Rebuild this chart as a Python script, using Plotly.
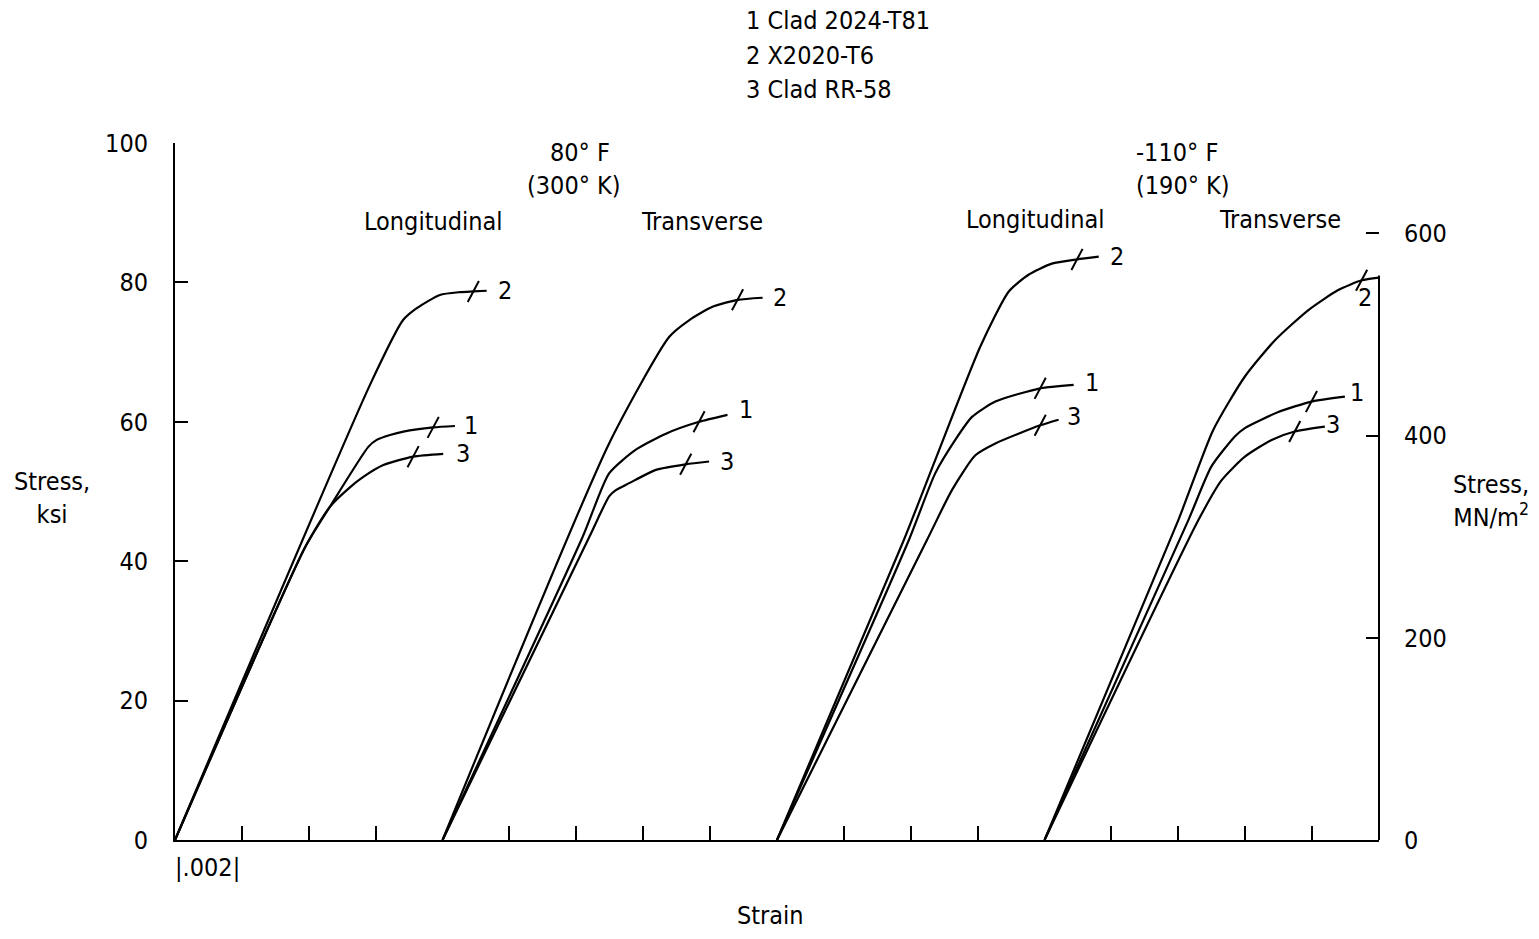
import plotly.graph_objects as go

# ---------------- data (strain relative to each group's origin, stress in ksi) ----------------
group_names = ["80F Longitudinal", "80F Transverse", "-110F Longitudinal", "-110F Transverse"]
group_offsets = [0.0, 0.008, 0.018, 0.026]

# group 1: 80 F longitudinal
g1_c1_strain = [0, 0.00389, 0.00463, 0.00578, 0.00603, 0.00643, 0.00683, 0.00772, 0.00837]
g1_c1_stress = [0, 42.0, 47.8, 56.4, 57.4, 58.1, 58.6, 59.2, 59.4]
g1_c2_strain = [0, 0.00583, 0.00682, 0.00723, 0.00792, 0.00852, 0.00892, 0.00932]
g1_c2_stress = [0, 65.3, 74.6, 76.3, 78.2, 78.6, 78.7, 78.8]
g1_c3_strain = [0, 0.00389, 0.00463, 0.00523, 0.00563, 0.00623, 0.00712, 0.00802]
g1_c3_stress = [0, 42.0, 47.8, 50.6, 52.1, 53.8, 55.0, 55.4]

# group 2: 80 F transverse
g2_c1_strain = [0, 0.00419, 0.00498, 0.00578, 0.00668, 0.00767, 0.00852]
g2_c1_stress = [0, 43.5, 52.6, 56.0, 58.3, 60.0, 61.0]
g2_c2_strain = [0, 0.00498, 0.00678, 0.00738, 0.00807, 0.00882, 0.00957]
g2_c2_stress = [0, 56.9, 72.2, 74.6, 76.5, 77.5, 77.8]
g2_c3_strain = [0, 0.00439, 0.00498, 0.00518, 0.00558, 0.00638, 0.00727, 0.00797]
g2_c3_stress = [0, 43.5, 49.3, 50.2, 51.2, 53.1, 53.9, 54.3]

# group 3: -110 F longitudinal
g3_c1_strain = [0, 0.00394, 0.00473, 0.00533, 0.00583, 0.00653, 0.00787, 0.00887]
g3_c1_stress = [0, 43.0, 52.6, 57.4, 60.7, 62.9, 64.8, 65.3]
g3_c2_strain = [0, 0.00379, 0.00473, 0.00608, 0.00693, 0.00752, 0.00822, 0.00897, 0.00962]
g3_c2_stress = [0, 43.0, 54.5, 70.8, 78.7, 81.1, 82.7, 83.3, 83.7]
g3_c3_strain = [0, 0.00448, 0.00523, 0.00593, 0.00653, 0.00787, 0.00842]
g3_c3_stress = [0, 43.0, 50.2, 55.2, 56.9, 59.5, 60.3]

# group 4: -110 F transverse
g4_c1_strain = [0, 0.00430, 0.00499, 0.00569, 0.00599, 0.00699, 0.00798, 0.00898]
g4_c1_stress = [0, 45.9, 53.6, 57.9, 59.1, 61.4, 62.9, 63.6]
g4_c2_strain = [0, 0.00400, 0.00504, 0.00599, 0.00689, 0.00788, 0.00878, 0.00948, 0.01000]
g4_c2_stress = [0, 45.9, 58.8, 66.5, 71.7, 76.0, 78.9, 80.3, 80.7]
g4_c3_strain = [0, 0.00460, 0.00529, 0.00599, 0.00679, 0.00748, 0.00838]
g4_c3_stress = [0, 45.9, 51.6, 55.0, 57.4, 58.6, 59.3]

# fracture marks (strain relative to group origin, stress ksi), order: curve 1, 2, 3
g1_frac_strain = [0.00772, 0.00892, 0.00712]
g1_frac_stress = [59.2, 78.7, 55.0]
g2_frac_strain = [0.00767, 0.00882, 0.00727]
g2_frac_stress = [60.0, 77.5, 53.9]
g3_frac_strain = [0.00787, 0.00897, 0.00787]
g3_frac_stress = [64.8, 83.3, 59.5]
g4_frac_strain = [0.00798, 0.00948, 0.00748]
g4_frac_stress = [62.9, 80.3, 58.6]

curve_ids = ["1", "2", "3"]
legend_lines = ["1 Clad 2024-T81", "2 X2020-T6", "3 Clad RR-58"]

x_ticks = [0.002 * i for i in range(1, 18) if i not in (4, 9, 13)]
y_ticks_ksi = [0, 20, 40, 60, 80, 100]
y_ticks_mn = [0, 200, 400, 600]
KSI_TO_MN = 6.89476

# ---------------- figure ----------------
FONT = "Liberation Sans Narrow, DejaVu Sans Condensed, Arial Narrow, sans-serif"
FS = 25
fig = go.Figure()

groups = [
    (group_offsets[0], [(g1_c1_strain, g1_c1_stress), (g1_c2_strain, g1_c2_stress), (g1_c3_strain, g1_c3_stress)],
     (g1_frac_strain, g1_frac_stress)),
    (group_offsets[1], [(g2_c1_strain, g2_c1_stress), (g2_c2_strain, g2_c2_stress), (g2_c3_strain, g2_c3_stress)],
     (g2_frac_strain, g2_frac_stress)),
    (group_offsets[2], [(g3_c1_strain, g3_c1_stress), (g3_c2_strain, g3_c2_stress), (g3_c3_strain, g3_c3_stress)],
     (g3_frac_strain, g3_frac_stress)),
    (group_offsets[3], [(g4_c1_strain, g4_c1_stress), (g4_c2_strain, g4_c2_stress), (g4_c3_strain, g4_c3_stress)],
     (g4_frac_strain, g4_frac_stress)),
]

# label shifts (pixels) for curve-number labels
label_shift = [
    [(16, 0), (18, 0), (20, 0)],
    [(18, 5), (17, 0), (18, 0)],
    [(18, 2), (18, 0), (15, 3)],
    [(12, 4), (-14, -20), (8, 2)],
]

for gi, (off, curves, frac) in enumerate(groups):
    for ci, (sx, sy) in enumerate(curves):
        fig.add_trace(go.Scatter(
            x=[off + v for v in sx], y=sy, mode="lines",
            line=dict(color="black", width=2.2, shape="spline", smoothing=0.6),
            name=f"{group_names[gi]} {curve_ids[ci]}", showlegend=False, hoverinfo="skip"))
        dx, dy = label_shift[gi][ci]
        fig.add_annotation(x=off + sx[-1], y=sy[-1], xref="x", yref="y", text=curve_ids[ci],
                           showarrow=False, xanchor="center", yanchor="middle",
                           xshift=dx, yshift=dy, font=dict(size=FS, color="black", family=FONT))
    fig.add_trace(go.Scatter(
        x=[off + v for v in frac[0]], y=frac[1], mode="markers",
        marker=dict(symbol="line-ns", size=17, angle=28, color="black",
                    line=dict(color="black", width=2)),
        showlegend=False, hoverinfo="skip"))

# invisible trace on the secondary (MN/m^2) axis
fig.add_trace(go.Scatter(x=[0], y=[0], yaxis="y2", mode="markers",
                         marker=dict(opacity=0), showlegend=False, hoverinfo="skip"))

txt = dict(size=FS, color="black", family=FONT)
annos = [
    (0.473, 1.176, legend_lines[0], "left"),
    (0.473, 1.126, legend_lines[1], "left"),
    (0.473, 1.077, legend_lines[2], "left"),
    (0.336, 0.987, "80° F", "center"),
    (0.331, 0.939, "(300° K)", "center"),
    (0.215, 0.887, "Longitudinal", "center"),
    (0.438, 0.887, "Transverse", "center"),
    (0.832, 0.987, "-110° F", "center"),
    (0.837, 0.939, "(190° K)", "center"),
    (0.715, 0.890, "Longitudinal", "center"),
    (0.918, 0.890, "Transverse", "center"),
    (-0.102, 0.490, "Stress,<br>ksi", "center"),
    (1.093, 0.486, "Stress,<br>MN/m<sup>2</sup>", "center"),
    (0.027, -0.040, "|.002|", "center"),
    (0.495, -0.109, "Strain", "center"),
]
for x, y, t, xa in annos:
    fig.add_annotation(x=x, y=y, xref="paper", yref="paper", text=t, showarrow=False,
                       xanchor=xa, yanchor="middle", font=txt, align="center")

# partial right-hand axis line
fig.add_shape(type="line", xref="paper", yref="y", x0=1, x1=1, y0=0, y1=81,
              line=dict(color="black", width=2))

fig.update_layout(
    width=1539, height=939,
    margin=dict(l=175, r=160, t=143, b=99),
    paper_bgcolor="white", plot_bgcolor="white",
    showlegend=False,
    xaxis=dict(range=[0, 0.036], showgrid=False, zeroline=False, showline=True,
               linecolor="black", linewidth=2, ticks="inside", ticklen=14, tickwidth=2,
               tickcolor="black", tickvals=x_ticks, showticklabels=False, mirror=False),
    yaxis=dict(range=[0, 100], showgrid=False, zeroline=False, showline=True,
               linecolor="black", linewidth=2, ticks="inside", ticklen=13, tickwidth=2,
               tickcolor="black", tickvals=y_ticks_ksi, ticklabelstandoff=20,
               tickfont=dict(size=FS, color="black", family=FONT)),
    yaxis2=dict(range=[0, 100 * KSI_TO_MN], overlaying="y", side="right", showgrid=False,
                zeroline=False, showline=False, ticks="inside", ticklen=13, tickwidth=2,
                tickcolor="black", tickvals=y_ticks_mn, ticklabelstandoff=24,
                tickfont=dict(size=FS, color="black", family=FONT)),
)

fig.write_html("out.html")
